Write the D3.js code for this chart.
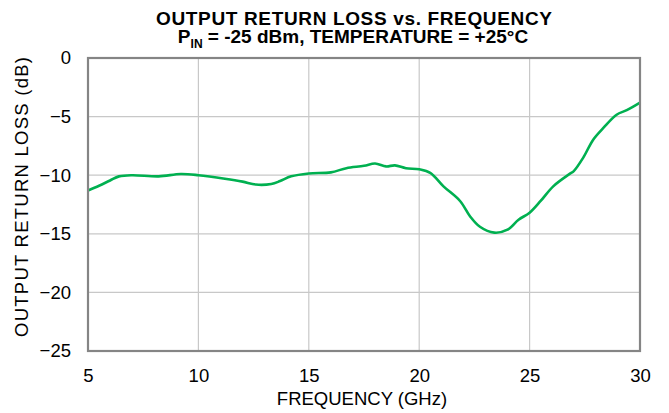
<!DOCTYPE html>
<html>
<head>
<meta charset="utf-8">
<script src="https://cdn.jsdelivr.net/npm/d3@7"></script>
<style>
  body { margin: 0; background: #fff; }
  svg { display: block; font-family: "Liberation Sans", Arial, sans-serif; }
</style>
</head>
<body>
<div id="chart"></div>
<script>
var freq = [5.0, 5.5, 6.0, 6.4, 7.0, 8.2, 9.2, 10.0, 11.2, 12.0, 12.6, 13.3, 13.7, 14.2,
            15.0, 16.0, 16.7, 17.5, 18.0, 18.5, 18.9, 19.4, 20.0, 20.5, 21.1, 21.85,
            22.3, 22.75, 23.4, 24.0, 24.5, 25.0, 25.5, 26.07, 26.83, 27.0, 27.43, 27.88, 28.34, 28.94, 29.4, 30.0];
var returnLoss = [-11.3, -10.9, -10.45, -10.1, -10.0, -10.1, -9.9, -10.0, -10.3, -10.55, -10.8, -10.75, -10.5, -10.1,
                  -9.85, -9.76, -9.4, -9.2, -9.0, -9.25, -9.16, -9.4, -9.5, -9.8, -10.95, -12.2,
                  -13.5, -14.4, -14.9, -14.65, -13.8, -13.2, -12.2, -10.95, -9.87, -9.65, -8.5, -6.97, -5.97, -4.84, -4.45, -3.8];
var xTicks = [5, 10, 15, 20, 25, 30];
var yTicks = [0, -5, -10, -15, -20, -25];

const W = 669, H = 413,
      pLeft = 88, pRight = 640, pTop = 58, pBottom = 351;

var svg = d3.select('#chart')
    .append('svg')
    .attr('width', W)
    .attr('height', H);

var x = d3.scaleLinear().domain([5, 30]).range([pLeft, pRight]);
var y = d3.scaleLinear().domain([-25, 0]).range([pBottom, pTop]);

// grid
svg.append('g')
    .selectAll('line')
    .data(xTicks.slice(1, -1))
    .enter().append('line')
    .attr('x1', d => x(d)).attr('x2', d => x(d))
    .attr('y1', pTop).attr('y2', pBottom)
    .style('stroke', '#c8c8c8').style('stroke-width', 1.2);

svg.append('g')
    .selectAll('line')
    .data(yTicks.slice(1, -1))
    .enter().append('line')
    .attr('x1', pLeft).attr('x2', pRight)
    .attr('y1', d => y(d)).attr('y2', d => y(d))
    .style('stroke', '#c8c8c8').style('stroke-width', 1.2);

// curve
var line = d3.line()
    .x((d, i) => x(freq[i]))
    .y(d => y(d))
    .curve(d3.curveCatmullRom.alpha(0.5));

svg.append('path')
    .datum(returnLoss)
    .attr('d', line)
    .style('fill', 'none')
    .style('stroke', '#00b050')
    .style('stroke-width', 2.6);

// plot frame
svg.append('rect')
    .attr('x', pLeft).attr('y', pTop)
    .attr('width', pRight - pLeft).attr('height', pBottom - pTop)
    .style('fill', 'none')
    .style('stroke', '#858585')
    .style('stroke-width', 2.2);

// axes (labels only)
var xAxis = d3.axisBottom(x).tickValues(xTicks).tickSize(0).tickPadding(17.5);
var yAxis = d3.axisLeft(y).tickValues(yTicks).tickSize(0).tickPadding(17);

var gx = svg.append('g').attr('transform', `translate(0,${pBottom})`).call(xAxis);
var gy = svg.append('g').attr('transform', `translate(${pLeft},0)`).call(yAxis);
[gx, gy].forEach(g => {
  g.select('.domain').remove();
  g.selectAll('text')
    .style('font-size', '18.5px')
    .style('fill', '#000')
    .style('font-family', '"Liberation Sans", Arial, sans-serif');
});

// titles
svg.append('text')
    .attr('x', 354).attr('y', 25)
    .attr('text-anchor', 'middle')
    .attr('textLength', 396)
    .style('font-size', '19px').style('font-weight', 'bold')
    .text('OUTPUT RETURN LOSS vs. FREQUENCY');

var t2 = svg.append('text')
    .attr('x', 353).attr('y', 43)
    .attr('text-anchor', 'middle')
    .style('font-size', '19px').style('font-weight', 'bold');
t2.append('tspan').text('P');
t2.append('tspan').attr('dy', 4.5).style('font-size', '12px').text('IN');
t2.append('tspan').attr('dy', -4.5).text(' = -25 dBm, TEMPERATURE = +25°C');

svg.append('text')
    .attr('x', 362).attr('y', 405)
    .attr('text-anchor', 'middle')
    .style('font-size', '18.5px')
    .text('FREQUENCY (GHz)');

svg.append('text')
    .attr('transform', 'translate(28,197) rotate(-90)')
    .attr('text-anchor', 'middle')
    .attr('textLength', 280)
    .style('font-size', '18.5px')
    .text('OUTPUT RETURN LOSS (dB)');
</script>
</body>
</html>
